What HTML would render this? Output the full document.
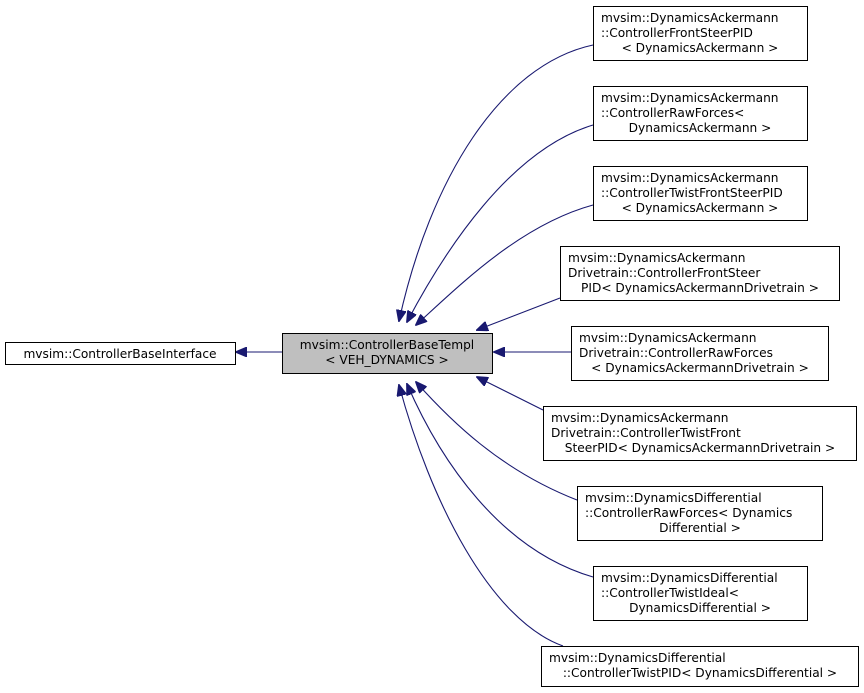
<!DOCTYPE html>
<html><head><meta charset="utf-8"><style>
html,body{margin:0;padding:0;background:#fff;width:864px;height:693px;overflow:hidden}
svg text{font-family:"DejaVu Sans","Liberation Sans",sans-serif;font-size:12.2px;fill:#000}
</style></head><body>
<svg width="864" height="693" viewBox="0 0 864 693" xmlns="http://www.w3.org/2000/svg">
<defs>
<marker id="a" markerWidth="12" markerHeight="10" refX="11" refY="5" orient="auto" markerUnits="userSpaceOnUse">
<path d="M0,0 L12,5 L0,10 Z" fill="#191970" stroke="#191970"/>
</marker>
</defs>
<g fill="none" stroke="#191970" stroke-width="1.1">
<path d="M282,352 L236,352" marker-end="url(#a)"/>
<path d="M593,45 C500,65 430,180 399,321" marker-end="url(#a)"/>
<path d="M593,125 C510,150 445,250 407,322" marker-end="url(#a)"/>
<path d="M593,205 C520,225 460,285 416,325" marker-end="url(#a)"/>
<path d="M560,298 L477,330" marker-end="url(#a)"/>
<path d="M571,352 L494,352" marker-end="url(#a)"/>
<path d="M543,410 L477,377" marker-end="url(#a)"/>
<path d="M577,500 C500,470 450,420 416,382" marker-end="url(#a)"/>
<path d="M593,577 C500,550 440,460 407,384" marker-end="url(#a)"/>
<path d="M563,646 C490,620 430,500 399,385" marker-end="url(#a)"/>
</g>
<g stroke="#000" stroke-width="1" fill="#fff">
<rect x="5.5" y="342.5" width="230" height="22"/>
<rect x="282.5" y="333.5" width="210" height="40" fill="#bfbfbf"/>
<rect x="593.5" y="6.5" width="214" height="54"/>
<rect x="593.5" y="86.5" width="214" height="54"/>
<rect x="593.5" y="166.5" width="214" height="54"/>
<rect x="560.5" y="246.5" width="279" height="54"/>
<rect x="571.5" y="326.5" width="257" height="54"/>
<rect x="543.5" y="406.5" width="313" height="54"/>
<rect x="577.5" y="486.5" width="245" height="54"/>
<rect x="593.5" y="566.5" width="214" height="54"/>
<rect x="541.5" y="646.5" width="317" height="40"/>
</g>
<text x="120" y="358" text-anchor="middle">mvsim::ControllerBaseInterface</text>
<text x="387" y="349" text-anchor="middle">mvsim::ControllerBaseTempl</text>
<text x="387" y="364" text-anchor="middle">&lt; VEH_DYNAMICS &gt;</text>

<text x="601" y="22">mvsim::DynamicsAckermann</text>
<text x="601" y="37">::ControllerFrontSteerPID</text>
<text x="700" y="52" text-anchor="middle">&lt; DynamicsAckermann &gt;</text>

<text x="601" y="102">mvsim::DynamicsAckermann</text>
<text x="601" y="117">::ControllerRawForces&lt;</text>
<text x="700" y="132" text-anchor="middle">DynamicsAckermann &gt;</text>

<text x="601" y="182">mvsim::DynamicsAckermann</text>
<text x="601" y="197">::ControllerTwistFrontSteerPID</text>
<text x="700" y="212" text-anchor="middle">&lt; DynamicsAckermann &gt;</text>

<text x="568" y="262">mvsim::DynamicsAckermann</text>
<text x="568" y="277">Drivetrain::ControllerFrontSteer</text>
<text x="700" y="292" text-anchor="middle">PID&lt; DynamicsAckermannDrivetrain &gt;</text>

<text x="579" y="342">mvsim::DynamicsAckermann</text>
<text x="579" y="357">Drivetrain::ControllerRawForces</text>
<text x="700" y="372" text-anchor="middle">&lt; DynamicsAckermannDrivetrain &gt;</text>

<text x="551" y="422">mvsim::DynamicsAckermann</text>
<text x="551" y="437">Drivetrain::ControllerTwistFront</text>
<text x="700" y="452" text-anchor="middle">SteerPID&lt; DynamicsAckermannDrivetrain &gt;</text>

<text x="585" y="502">mvsim::DynamicsDifferential</text>
<text x="585" y="517">::ControllerRawForces&lt; Dynamics</text>
<text x="700" y="532" text-anchor="middle">Differential &gt;</text>

<text x="601" y="582">mvsim::DynamicsDifferential</text>
<text x="601" y="597">::ControllerTwistIdeal&lt;</text>
<text x="700" y="612" text-anchor="middle">DynamicsDifferential &gt;</text>

<text x="549" y="662">mvsim::DynamicsDifferential</text>
<text x="700" y="677" text-anchor="middle">::ControllerTwistPID&lt; DynamicsDifferential &gt;</text>
</svg>
</body></html>
